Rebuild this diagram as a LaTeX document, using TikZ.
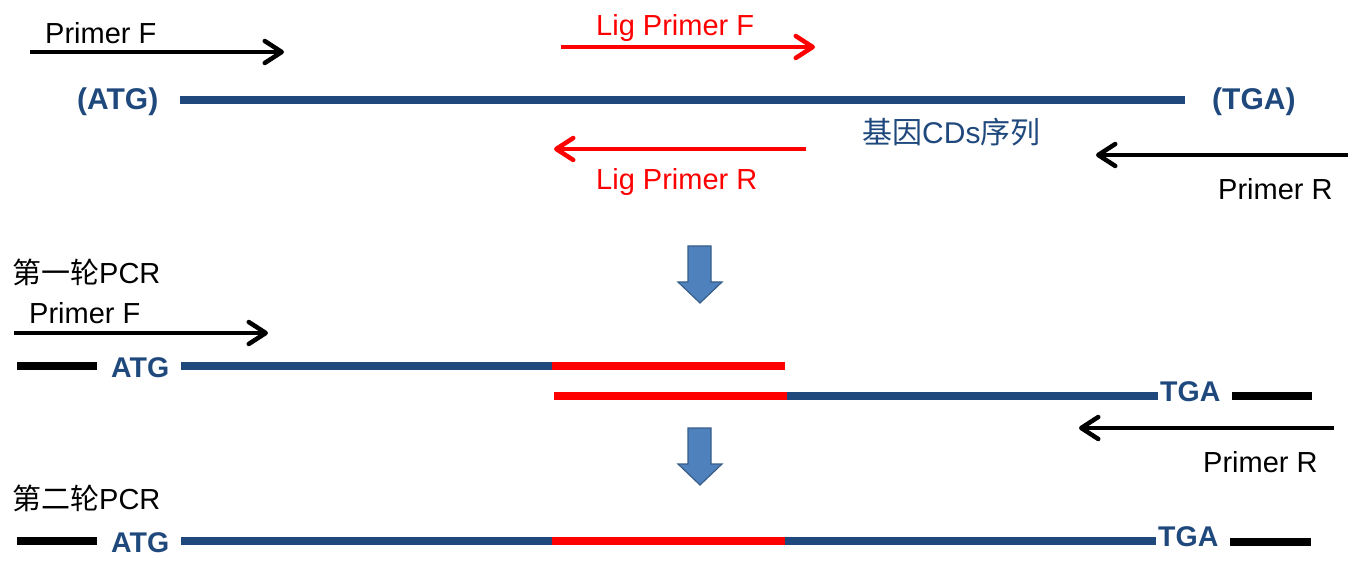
\documentclass[tikz,border=0pt]{standalone}
\usepackage{fontspec}
\setmainfont{Liberation Sans}
\newfontfamily\cjk{Noto Sans CJK SC}
\usetikzlibrary{arrows.meta}
\definecolor{dnablue}{HTML}{1F497D}
\definecolor{ligred}{HTML}{FF0000}
\definecolor{arrfill}{HTML}{4F81BD}
\definecolor{arredge}{HTML}{385D8A}
\begin{document}
\begin{tikzpicture}[x=1pt,y=-1pt,
  lbl/.style={inner sep=0pt, anchor=west, font=\fontsize{29}{32}\selectfont},
  seqlbl/.style={inner sep=0pt, anchor=west, font=\fontsize{28.5}{32}\selectfont\bfseries, text=dnablue},
  bigseq/.style={seqlbl, font=\fontsize{30}{32}\selectfont\bfseries},
  primer/.style={line width=4.5pt, -{Straight Barb[length=17pt,width=22pt,line width=4.5pt,round]}},
  strand/.style={line width=8pt, dnablue},
  ligstrand/.style={line width=8pt, ligred},
  flank/.style={line width=8pt, black},
  downarrow/.style={fill=arrfill, draw=arredge, line width=1.2pt, line join=miter}
]
\useasboundingbox (0,0) rectangle (1358,572);

% ---------- top: template ----------
\node[lbl] (pfT) at (45,33) {Primer F};
\coordinate (pfTs) at (30,52);
\coordinate (pfTe) at (284,52);
\draw[primer] (pfTs) -- (pfTe);

\node[lbl, text=ligred] (lfT) at (596,28.5) {Lig Primer F};
\coordinate (lfs) at (561,47);
\coordinate (lfe) at (815,47);
\draw[primer, ligred] (lfs) -- (lfe);

\node[bigseq] (atgT) at (77,102) {(ATG)};
\node[bigseq] (tgaT) at (1212,102) {(TGA)};
\coordinate (gS) at (180,100);
\coordinate (gE) at (1185,100);
\draw[strand] (gS) -- (gE);

\node[lbl, text=dnablue, font=\fontsize{30}{32}\selectfont] (cds) at (862,132) {{\cjk 基因}CDs{\cjk 序列}};

\coordinate (lrs) at (806,149);
\coordinate (lre) at (554,149);
\draw[primer, ligred] (lrs) -- (lre);
\node[lbl, text=ligred] (lrT) at (596,182) {Lig Primer R};

\coordinate (prTs) at (1348,155);
\coordinate (prTe) at (1096,155);
\draw[primer] (prTs) -- (prTe);
\node[lbl] (prT) at (1218,189) {Primer R};

% ---------- down arrow 1 ----------
\draw[downarrow] (688,246) -- (711,246) -- (711,282) -- (722,282) -- (700,303) -- (678,282) -- (688,282) -- cycle;

% ---------- first PCR ----------
\node[lbl] (r1) at (12,272) {{\cjk 第一轮}PCR};
\node[lbl] (pf2) at (29,313.5) {Primer F};
\coordinate (pf2s) at (14,333);
\coordinate (pf2e) at (268,333);
\draw[primer] (pf2s) -- (pf2e);

\draw[flank] (17,366) -- (97,366);
\node[seqlbl] (atg1) at (111,367.5) {ATG};
\draw[strand] (181,366) -- (552,366);
\draw[ligstrand] (552,366) -- (785,366);

\draw[ligstrand] (554,396) -- (787,396);
\draw[strand] (787,396) -- (1158,396);
\node[seqlbl] (tga1) at (1160,391.5) {TGA};
\draw[flank] (1232,396) -- (1312,396);

\coordinate (pr2s) at (1334,428);
\coordinate (pr2e) at (1079,428);
\draw[primer] (pr2s) -- (pr2e);
\node[lbl] (pr2) at (1203,462) {Primer R};

% ---------- down arrow 2 ----------
\draw[downarrow] (688,428) -- (711,428) -- (711,464) -- (722,464) -- (700,485) -- (678,464) -- (688,464) -- cycle;

% ---------- second PCR ----------
\node[lbl] (r2) at (12,498) {{\cjk 第二轮}PCR};
\draw[flank] (17,541) -- (97,541);
\node[seqlbl] (atg2) at (111,542.5) {ATG};
\draw[strand] (181,541) -- (552,541);
\draw[ligstrand] (552,541) -- (785,541);
\draw[strand] (785,541) -- (1156,541);
\node[seqlbl] (tga2) at (1158,537) {TGA};
\draw[flank] (1230,542) -- (1311,542);
\end{tikzpicture}
\end{document}
